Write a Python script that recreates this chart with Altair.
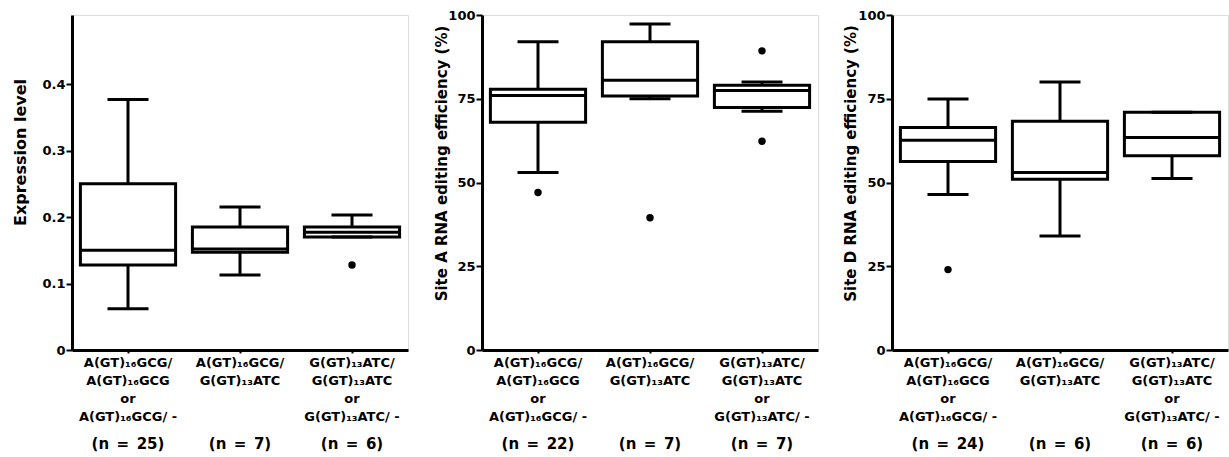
import altair as alt
import pandas as pd

# Category labels ("|" = line break)
cats = [
    "A(GT)₁₆GCG/|A(GT)₁₆GCG|or|A(GT)₁₆GCG/ -",
    "A(GT)₁₆GCG/|G(GT)₁₃ATC",
    "G(GT)₁₃ATC/|G(GT)₁₃ATC|or|G(GT)₁₃ATC/ -",
]

# Panel 1: Expression level
expr_lo = [0.062, 0.113, 0.170]
expr_q1 = [0.128, 0.147, 0.170]
expr_med = [0.150, 0.152, 0.177]
expr_q3 = [0.250, 0.185, 0.185]
expr_hi = [0.377, 0.215, 0.203]
expr_out_cat = [2]
expr_out_val = [0.128]
expr_n = ["25", "7", "6"]

# Panel 2: Site A RNA editing efficiency (%)
siteA_lo = [53.0, 75.0, 71.3]
siteA_q1 = [68.0, 75.8, 72.4]
siteA_med = [76.0, 80.5, 77.5]
siteA_q3 = [77.8, 92.0, 79.0]
siteA_hi = [92.0, 97.3, 80.0]
siteA_out_cat = [0, 1, 2, 2]
siteA_out_val = [47.0, 39.5, 89.3, 62.3]
siteA_n = ["22", "7", "7"]

# Panel 3: Site D RNA editing efficiency (%)
siteD_lo = [46.4, 34.0, 51.2]
siteD_q1 = [56.3, 51.0, 58.0]
siteD_med = [62.6, 53.0, 63.4]
siteD_q3 = [66.4, 68.3, 71.0]
siteD_hi = [74.9, 80.0, 71.0]
siteD_out_cat = [0]
siteD_out_val = [24.0]
siteD_n = ["24", "6", "6"]

W, H = 336, 335
FONT = "DejaVu Sans"
LW = 3


def panel(lo, q1, med, q3, hi, out_cat, out_val, ns, ytitle, domain, ticks,
          fmt, title_x, title_y, title_size):
    df = pd.DataFrame({"cat": cats, "lo": lo, "q1": q1, "med": med,
                       "q3": q3, "hi": hi,
                       "n": ["(n\u2002=\u2002" + v + ")" for v in ns]})
    od = pd.DataFrame({"cat": [cats[i] for i in out_cat], "v": out_val})

    xenc = alt.X("cat:N", sort=cats,
                 scale=alt.Scale(paddingInner=0, paddingOuter=0),
                 axis=alt.Axis(title=None, labelAngle=0,
                               labelExpr="split(datum.label, '|')",
                               labelFont=FONT, labelFontSize=13,
                               labelFontWeight="bold", labelLineHeight=18,
                               labelColor="black", labelPadding=3,
                               domainColor="black", domainWidth=LW,
                               tickColor="black", tickWidth=2, tickSize=3))
    yscale = alt.Scale(domain=domain, nice=False, zero=True)
    yaxis = alt.Axis(title=ytitle, values=ticks, format=fmt, grid=False,
                     labelFont=FONT, labelFontSize=13, labelFontWeight="bold",
                     labelColor="black", labelPadding=1,
                     domainColor="black", domainWidth=LW,
                     tickColor="black", tickWidth=2, tickSize=6,
                     titleFont=FONT, titleFontSize=title_size,
                     titleFontWeight="bold", titleColor="black",
                     titleX=title_x, titleY=title_y,
                     titleBaseline="middle", titleAlign="center")

    base = alt.Chart(df)
    w_low = base.mark_rule(color="black", strokeWidth=LW).encode(
        x=xenc, y=alt.Y("lo:Q", scale=yscale, axis=yaxis), y2="q1:Q")
    w_high = base.mark_rule(color="black", strokeWidth=LW).encode(
        x="cat:N", y="q3:Q", y2="hi:Q")
    box = base.mark_bar(width={"band": 0.85}, fill="white", stroke="black",
                        strokeWidth=LW, opacity=1).encode(
        x="cat:N", y="q1:Q", y2="q3:Q")
    median = base.mark_tick(color="black", thickness=LW, size=95,
                            opacity=1).encode(x="cat:N", y="med:Q")
    cap_lo = base.mark_tick(color="black", thickness=LW, size=41,
                            opacity=1).encode(x="cat:N", y="lo:Q")
    cap_hi = base.mark_tick(color="black", thickness=LW, size=41,
                            opacity=1).encode(x="cat:N", y="hi:Q")
    outl = alt.Chart(od).mark_circle(color="black", opacity=1, size=55).encode(
        x="cat:N", y="v:Q")
    ntext = base.mark_text(font=FONT, fontSize=15, fontWeight="bold",
                           color="black", baseline="middle").encode(
        x="cat:N", y=alt.value(H + 94), text="n:N")
    return alt.layer(w_low, w_high, box, median, cap_lo, cap_hi, outl,
                     ntext).properties(width=W, height=H)


p1 = panel(expr_lo, expr_q1, expr_med, expr_q3, expr_hi, expr_out_cat,
           expr_out_val, expr_n, "Expression level", [0, 0.504],
           [0, 0.1, 0.2, 0.3, 0.4], "~g", -52, 137, 16)
p2 = panel(siteA_lo, siteA_q1, siteA_med, siteA_q3, siteA_hi, siteA_out_cat,
           siteA_out_val, siteA_n, "Site A RNA editing efficiency (%)",
           [0, 100], [0, 25, 50, 75, 100], "d", -41, 148, 15)
p3 = panel(siteD_lo, siteD_q1, siteD_med, siteD_q3, siteD_hi, siteD_out_cat,
           siteD_out_val, siteD_n, "Site D RNA editing efficiency (%)",
           [0, 100], [0, 25, 50, 75, 100], "d", -42, 148, 15)

chart = alt.hconcat(p1, p2, p3, spacing=74, bounds="flush").properties(
    padding={"left": 11, "top": 8, "right": 0, "bottom": 0}
).configure_view(stroke=None).configure(background="white")

chart.save("out.html", embed_options={"renderer": "svg", "actions": False})
